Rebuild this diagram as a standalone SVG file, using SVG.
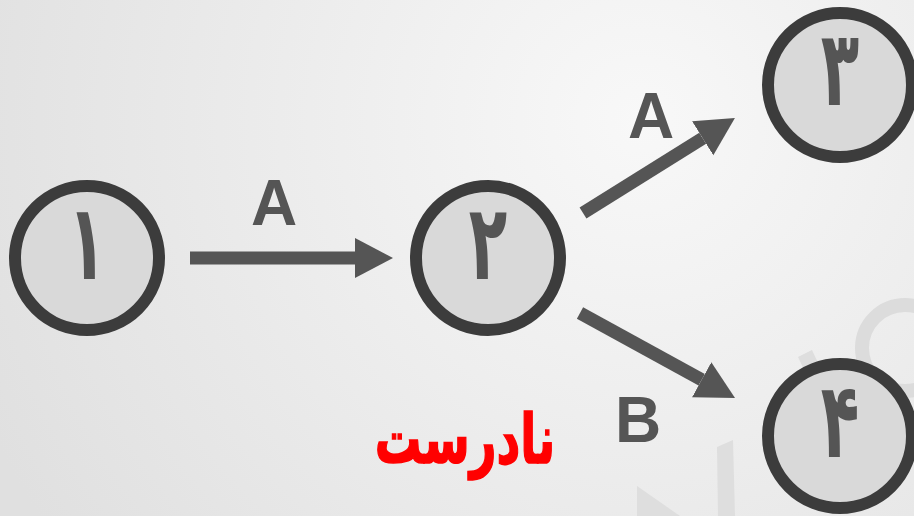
<svg xmlns="http://www.w3.org/2000/svg" width="914" height="516" viewBox="0 0 914 516">
  <defs>
    <radialGradient id="bg" gradientUnits="userSpaceOnUse" cx="640" cy="120" r="720">
      <stop offset="0" stop-color="#f8f8f8"/>
      <stop offset="1" stop-color="#e0e0e0"/>
    </radialGradient>
    <marker id="head" markerUnits="userSpaceOnUse" markerWidth="40" markerHeight="42" refX="0" refY="20" orient="auto">
      <path d="M0,0 L38,20 L0,40 Z" fill="#555555"/>
    </marker>
    <style>
      .node circle { fill: #d9d9d9; stroke: #3c3c3c; stroke-width: 12; }
      .node text { font-family: "DejaVu Sans", sans-serif; font-weight: bold; font-size: 105px; fill: #555555; text-anchor: middle; }
      .edge { stroke: #555555; stroke-width: 13; fill: none; marker-end: url(#head); }
      .label { font-family: "Liberation Sans", Arial, sans-serif; font-weight: bold; font-size: 64px; fill: #555555; text-anchor: middle; }
      .mark { fill: #dedede; }
      .verdict { font-family: "DejaVu Sans", sans-serif; font-weight: bold; font-size: 62px; fill: #ff0000; stroke: #ff0000; stroke-width: 1.5; text-anchor: middle; }
    </style>
  </defs>

  <rect width="914" height="516" fill="url(#bg)"/>

  <!-- faint background watermark strokes -->
  <g id="watermark">
    <circle cx="905" cy="348" r="43" fill="none" stroke="#dcdcdc" stroke-width="14"/>
    <polygon class="mark" points="798,357 812,350 840,410 826,416"/>
    <polygon class="mark" points="717,447 733,440 735,516 718,516"/>
    <polygon class="mark" points="637,486 680,516 637,516"/>
  </g>

  <g id="connectors">
    <line class="edge" x1="190" y1="258" x2="355" y2="258"/>
    <line class="edge" x1="583" y1="213" x2="702.7" y2="138.2"/>
    <line class="edge" x1="580" y1="313" x2="701.7" y2="379.7"/>
  </g>

  <g id="edge-labels">
    <text class="label" x="274" y="225">A</text>
    <text class="label" x="651" y="138">A</text>
    <text class="label" x="638" y="442">B</text>
  </g>

  <!-- digits are drawn narrow and tall: scaled horizontally around each centre -->
  <g id="node1" class="node">
    <circle cx="87" cy="258" r="72"/>
    <text transform="translate(87,279) scale(0.6,1)">۱</text>
  </g>
  <g id="node2" class="node">
    <circle cx="488" cy="258" r="72"/>
    <text transform="translate(488,279) scale(0.6,1)">۲</text>
  </g>
  <g id="node3" class="node">
    <circle cx="840" cy="85" r="72"/>
    <text transform="translate(840,105) scale(0.6,1)">۳</text>
  </g>
  <g id="node4" class="node">
    <circle cx="840" cy="436" r="72"/>
    <text transform="translate(840,457) scale(0.6,1)">۴</text>
  </g>

  <text id="verdict" class="verdict" transform="translate(465,463) scale(0.75,1.1)">نادرست</text>
</svg>
